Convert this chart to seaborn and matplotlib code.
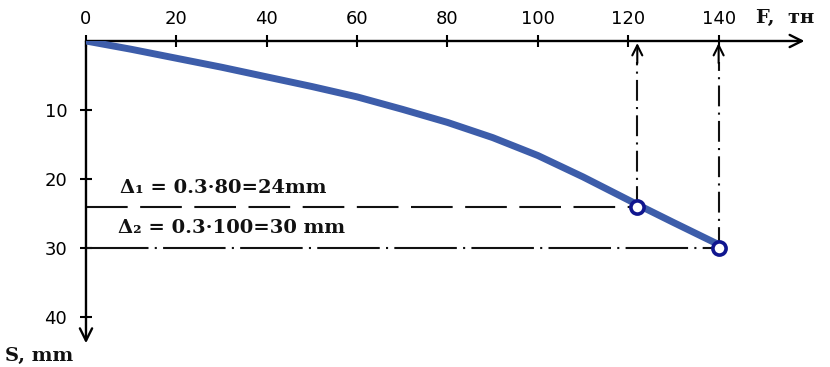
import matplotlib
matplotlib.use("Agg")
import matplotlib.pyplot as plt
import seaborn as sns
import pandas as pd

# curve: load F (тн) vs settlement S (mm)
force = [0, 10, 20, 30, 40, 50, 60, 70, 80, 90, 100, 110, 122, 130, 140]
settle = [0, 1.2, 2.5, 3.8, 5.2, 6.6, 8.1, 9.9, 11.8, 14.0, 16.6, 19.7, 23.7, 26.3, 29.5]

# marked points and their levels
pt_force = [122, 140]
pt_settle = [24, 30]

x_ticks = [0, 20, 40, 60, 80, 100, 120, 140]
y_ticks = [10, 20, 30, 40]

note1 = "Δ₁ = 0.3·80=24mm"
note2 = "Δ₂ = 0.3·100=30 mm"

sns.set_theme(style="white")
plt.rcParams["font.family"] = ["DejaVu Sans"]

curve = pd.DataFrame({"F": force, "S": settle})
pts = pd.DataFrame({"F": pt_force, "S": pt_settle})

fig = plt.figure(figsize=(8.3, 3.67), dpi=100)
ax = fig.add_axes([0.1036, 0.0422, 0.882, 0.8461])
ax.set_xlim(0, 162)
ax.set_ylim(45, 0)

for s in ax.spines.values():
    s.set_visible(False)

# main axes drawn as arrows
ax.annotate("", xy=(159, 0), xytext=(0, 0),
            arrowprops=dict(arrowstyle="->", lw=1.7, color="black",
                            mutation_scale=22, shrinkA=0, shrinkB=0),
            annotation_clip=False)
ax.annotate("", xy=(0, 43.8), xytext=(0, 0),
            arrowprops=dict(arrowstyle="->", lw=1.7, color="black",
                            mutation_scale=22, shrinkA=0, shrinkB=0),
            annotation_clip=False)

# guide lines from the marked points
ax.plot([0, pt_force[0]], [pt_settle[0]] * 2, color="#111111", lw=1.5,
        dashes=(20, 6), clip_on=False, zorder=2)
ax.plot([0, pt_force[1]], [pt_settle[1]] * 2, color="#111111", lw=1.5,
        dashes=(30, 3, 1, 3), clip_on=False, zorder=2)
for f, s in zip(pt_force, pt_settle):
    ax.plot([f, f], [s, 3], color="#111111", lw=1.5,
            dashes=(10, 3, 1, 3), zorder=2)
    ax.annotate("", xy=(f, 0.3), xytext=(f, 3.2),
                arrowprops=dict(arrowstyle="->", lw=1.5, color="black",
                                mutation_scale=18, shrinkA=0, shrinkB=0))

sns.lineplot(data=curve, x="F", y="S", ax=ax, color="#3d5daa", lw=5,
             zorder=3, solid_capstyle="round")
sns.scatterplot(data=pts, x="F", y="S", ax=ax, s=90, color="white",
                edgecolor="#10168f", linewidth=2.6, zorder=4, clip_on=False)

ax.set_xticks(x_ticks)
ax.set_yticks(y_ticks)
ax.xaxis.tick_top()
ax.tick_params(axis="x", direction="inout", length=9, width=1.5,
               color="black", labelcolor="black", pad=5, labelsize=13,
               top=True, bottom=False)
ax.tick_params(axis="y", direction="inout", length=9, width=1.5,
               color="black", labelcolor="black", pad=9, labelsize=13,
               left=True)
ax.set_xlabel("")
ax.set_ylabel("")

serif = dict(family="DejaVu Serif", fontweight="bold", color="#111111",
             va="center", ha="left")
ax.text(148.3, -3.3, "F,  тн", fontsize=14, **serif)
ax.text(-18, 45.6, "S, mm", fontsize=14, **serif)
ax.text(7.5, 21.3, note1, fontsize=14, **serif)
ax.text(7.1, 27.1, note2, fontsize=14, **serif)

fig.savefig("out.png", dpi=100, facecolor="white")
